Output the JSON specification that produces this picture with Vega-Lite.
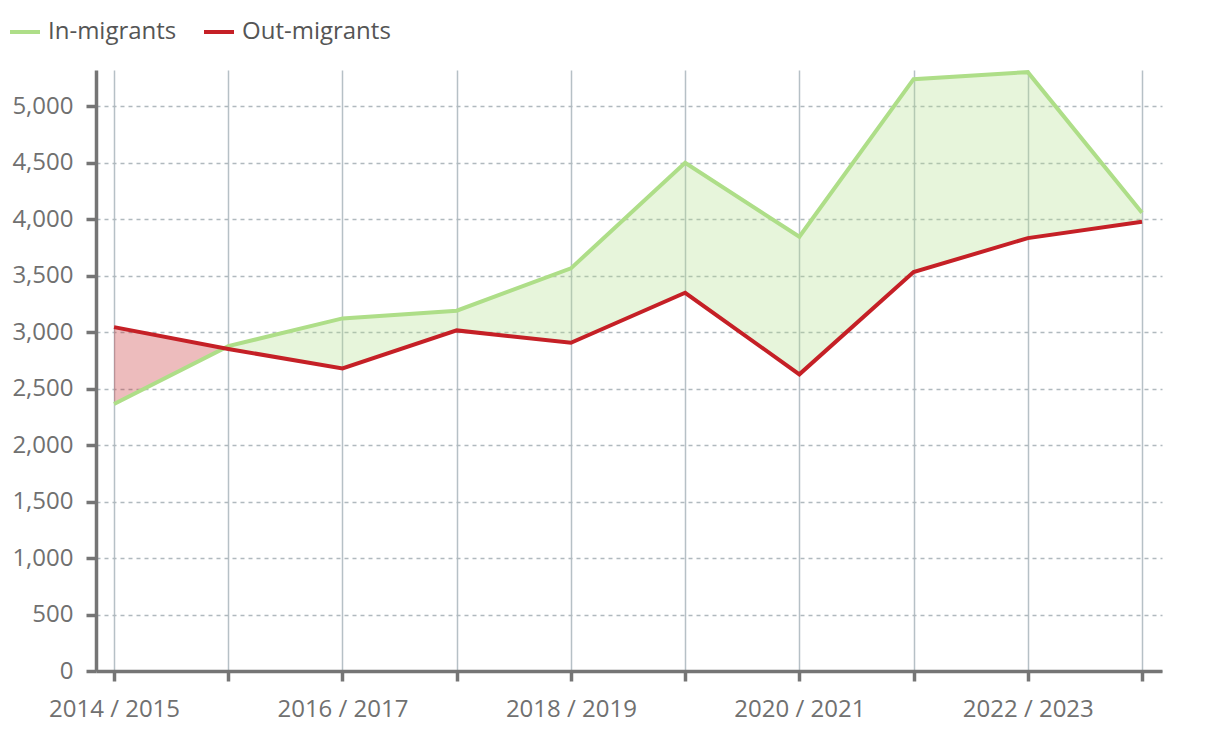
{
  "$schema": "https://vega.github.io/schema/vega-lite/v6.json",
  "width": 1066,
  "height": 601,
  "autosize": {"type": "none"},
  "padding": {"left": 96, "top": 70, "right": 58, "bottom": 61},
  "background": "white",
  "config": {
    "font": "Open Sans",
    "view": {"stroke": null},
    "axis": {
      "domainColor": "#757575",
      "domainWidth": 3.5,
      "tickColor": "#757575",
      "tickWidth": 3.5,
      "tickSize": 10,
      "labelColor": "#707070",
      "labelFontSize": 24,
      "labelFont": "Open Sans",
      "title": null
    }
  },
  "datasets": {
    "flows": [
      {"i": 0, "season": "2014 / 2015", "series": "In-migrants", "value": 2363},
      {"i": 1, "season": "2015 / 2016", "series": "In-migrants", "value": 2876},
      {"i": 2, "season": "2016 / 2017", "series": "In-migrants", "value": 3121},
      {"i": 3, "season": "2017 / 2018", "series": "In-migrants", "value": 3189},
      {"i": 4, "season": "2018 / 2019", "series": "In-migrants", "value": 3564},
      {"i": 5, "season": "2019 / 2020", "series": "In-migrants", "value": 4498},
      {"i": 6, "season": "2020 / 2021", "series": "In-migrants", "value": 3844},
      {"i": 7, "season": "2021 / 2022", "series": "In-migrants", "value": 5239},
      {"i": 8, "season": "2022 / 2023", "series": "In-migrants", "value": 5301},
      {"i": 9, "season": "2023 / 2024", "series": "In-migrants", "value": 4056},
      {"i": 0, "season": "2014 / 2015", "series": "Out-migrants", "value": 3044},
      {"i": 1, "season": "2015 / 2016", "series": "Out-migrants", "value": 2850},
      {"i": 2, "season": "2016 / 2017", "series": "Out-migrants", "value": 2679},
      {"i": 3, "season": "2017 / 2018", "series": "Out-migrants", "value": 3015},
      {"i": 4, "season": "2018 / 2019", "series": "Out-migrants", "value": 2906},
      {"i": 5, "season": "2019 / 2020", "series": "Out-migrants", "value": 3348},
      {"i": 6, "season": "2020 / 2021", "series": "Out-migrants", "value": 2626},
      {"i": 7, "season": "2021 / 2022", "series": "Out-migrants", "value": 3531},
      {"i": 8, "season": "2022 / 2023", "series": "Out-migrants", "value": 3832},
      {"i": 9, "season": "2023 / 2024", "series": "Out-migrants", "value": 3976}
    ],
    "bands": [
      {"band": "loss", "i": 0, "low": 2363, "high": 3044},
      {"band": "loss", "i": 0.955, "low": 2855, "high": 2855},
      {"band": "gain", "i": 0.955, "low": 2855, "high": 2855},
      {"band": "gain", "i": 1, "low": 2850, "high": 2876},
      {"band": "gain", "i": 2, "low": 2679, "high": 3121},
      {"band": "gain", "i": 3, "low": 3015, "high": 3189},
      {"band": "gain", "i": 4, "low": 2906, "high": 3564},
      {"band": "gain", "i": 5, "low": 3348, "high": 4498},
      {"band": "gain", "i": 6, "low": 2626, "high": 3844},
      {"band": "gain", "i": 7, "low": 3531, "high": 5239},
      {"band": "gain", "i": 8, "low": 3832, "high": 5301},
      {"band": "gain", "i": 9, "low": 3976, "high": 4056}
    ]
  },
  "layer": [
    {
      "data": {"name": "bands"},
      "mark": {"type": "area", "fillOpacity": 0.3, "interpolate": "linear"},
      "encoding": {
        "x": {
          "field": "i",
          "type": "quantitative",
          "scale": {"domain": [-0.158, 9.175], "nice": false, "zero": false},
          "axis": {
            "values": [0, 1, 2, 3, 4, 5, 6, 7, 8, 9],
            "labelExpr": "datum.value % 2 == 0 ? (2014 + datum.value) + ' / ' + (2015 + datum.value) : ''",
            "labelPadding": 16,
            "labelFlush": false,
            "labelOverlap": false,
            "grid": true,
            "gridColor": "#b6c0c6",
            "gridWidth": 1.5
          }
        },
        "y": {
          "field": "low",
          "type": "quantitative",
          "scale": {"domain": [0, 5320], "nice": false},
          "axis": {
            "values": [0, 500, 1000, 1500, 2000, 2500, 3000, 3500, 4000, 4500, 5000],
            "format": ",d",
            "labelPadding": 13,
            "grid": true,
            "gridColor": "#b0b9be",
            "gridWidth": 1.5,
            "gridDash": [4, 4]
          }
        },
        "y2": {"field": "high"},
        "fill": {
          "field": "band",
          "type": "nominal",
          "scale": {"domain": ["gain", "loss"], "range": ["#aede88", "#c52026"]},
          "legend": null
        }
      }
    },
    {
      "data": {"name": "flows"},
      "mark": {"type": "line", "strokeWidth": 4},
      "encoding": {
        "x": {"field": "i", "type": "quantitative"},
        "y": {"field": "value", "type": "quantitative"},
        "color": {
          "field": "series",
          "type": "nominal",
          "scale": {"domain": ["In-migrants", "Out-migrants"], "range": ["#aede88", "#c52026"]},
          "legend": {
            "title": null,
            "orient": "none",
            "legendX": -88,
            "legendY": -55,
            "direction": "horizontal",
            "symbolType": "stroke",
            "symbolSize": 900,
            "symbolStrokeWidth": 4,
            "labelFontSize": 24,
            "labelColor": "#555555",
            "labelFont": "Open Sans",
            "labelOffset": 6,
            "columnPadding": 19,
            "padding": 0
          }
        }
      }
    }
  ]
}
